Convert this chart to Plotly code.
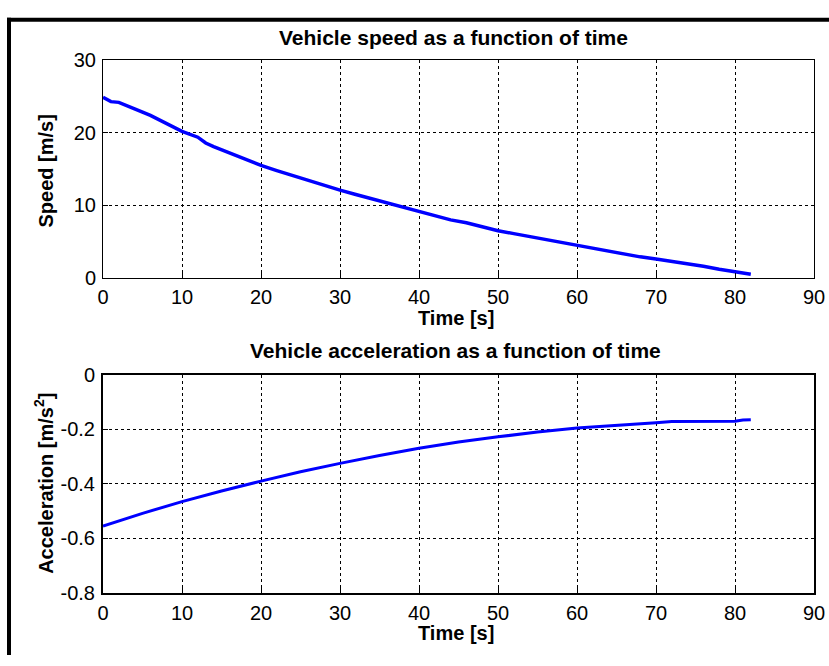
import plotly.graph_objects as go

# Speed data [m/s] vs time [s]
t_speed = [0, 1, 2, 3, 4, 6, 8, 10, 12, 13, 14, 16, 18, 20, 22, 24, 26, 28, 30, 32, 34, 36, 38,
           40, 42, 44, 46, 48, 50, 52, 54, 56, 58, 60, 62, 64, 66, 68, 70, 72, 74, 76, 78, 80, 82]
speed = [24.9, 24.3, 24.2, 23.7, 23.3, 22.4, 21.3, 20.2, 19.4, 18.6, 18.1, 17.2, 16.3, 15.5,
         14.8, 14.1, 13.4, 12.8, 12.1, 11.5, 10.9, 10.3, 9.7, 9.1, 8.6, 8.0, 7.6, 7.0, 6.5, 6.1,
         5.7, 5.2, 4.8, 4.4, 4.0, 3.6, 3.2, 2.9, 2.6, 2.3, 1.9, 1.6, 1.2, 0.8, 0.5]

# Acceleration data [m/s^2] vs time [s]
t_acc = [0, 5, 10, 15, 20, 25, 30, 35, 40, 45, 50, 55, 60, 65, 68, 70, 72, 76, 80, 81, 82]
acc = [-0.555, -0.508, -0.465, -0.426, -0.39, -0.356, -0.325, -0.296, -0.27, -0.247, -0.228,
       -0.21, -0.196, -0.185, -0.178, -0.176, -0.172, -0.172, -0.171, -0.166, -0.165]

x_ticks = [0, 10, 20, 30, 40, 50, 60, 70, 80, 90]
speed_ticks = [0, 10, 20, 30]
acc_ticks = [-0.8, -0.6, -0.4, -0.2, 0]
acc_tick_text = ["-0.8", "-0.6", "-0.4", "-0.2", "0"]

W, H = 829, 666
L, R = 103, 15
PW = W - L - R


def px(x):
    return (x - L) / PW


def py(y):
    return 1 - y / H


FONT = "Liberation Sans"

fig = go.Figure()
fig.add_trace(go.Scatter(x=t_speed, y=speed, mode="lines",
                         line=dict(color="#0000ff", width=3.5), xaxis="x", yaxis="y"))
fig.add_trace(go.Scatter(x=t_acc, y=acc, mode="lines",
                         line=dict(color="#0000ff", width=3), xaxis="x2", yaxis="y2"))

axis_common = dict(showline=True, linecolor="black", mirror=True, ticks="inside", ticklen=5,
                   tickcolor="black", showgrid=True, gridcolor="black", griddash="dot",
                   gridwidth=1, zeroline=False, tickfont=dict(family=FONT, size=20, color="black"))

fig.update_layout(
    width=W, height=H, margin=dict(l=L, r=R, t=0, b=0),
    paper_bgcolor="white", plot_bgcolor="white", showlegend=False,
    xaxis=dict(domain=[0, 1], range=[0, 90], tickvals=x_ticks, anchor="y", linewidth=1,
               ticklabelstandoff=1, **axis_common),
    yaxis=dict(domain=[py(276), py(51)], range=[0, 30], tickvals=speed_ticks, anchor="x",
               linewidth=1, ticklabelstandoff=2, **axis_common),
    xaxis2=dict(domain=[0, 1], range=[0, 90], tickvals=x_ticks, anchor="y2", linewidth=2,
                ticklabelstandoff=1, **axis_common),
    yaxis2=dict(domain=[py(602), py(376)], range=[-0.8, 0], tickvals=acc_ticks,
                ticktext=acc_tick_text, anchor="x2", linewidth=2, ticklabelstandoff=2, **axis_common),
)

ann = []


def txt(x, y, s, size=21, angle=0):
    ann.append(dict(x=px(x), y=py(y), xref="paper", yref="paper", text=s, showarrow=False,
                    textangle=angle, xanchor="center", yanchor="middle",
                    font=dict(family=FONT, size=size, color="black")))


txt(453, 27, "<b>Vehicle speed as a function of time</b>")
txt(456, 318, "<b>Time [s]</b>", size=20)
txt(455, 351, "<b>Vehicle acceleration as a function of time</b>")
txt(456, 643, "<b>Time [s]</b>", size=20)
txt(46, 165, "<b>Speed [m/s]</b>", size=20, angle=-90)
txt(44, 489, "<b>Acceleration [m/s<sup>2</sup>]</b>", size=20, angle=-90)
fig.update_layout(annotations=ann)

# outer frame (left and top edges)
fig.add_shape(type="line", xref="paper", yref="paper", x0=px(7), x1=px(829), y0=py(9), y1=py(9),
              line=dict(color="black", width=4))
fig.add_shape(type="line", xref="paper", yref="paper", x0=px(9), x1=px(9), y0=py(7), y1=py(666),
              line=dict(color="black", width=4))

fig.write_html("out.html")
